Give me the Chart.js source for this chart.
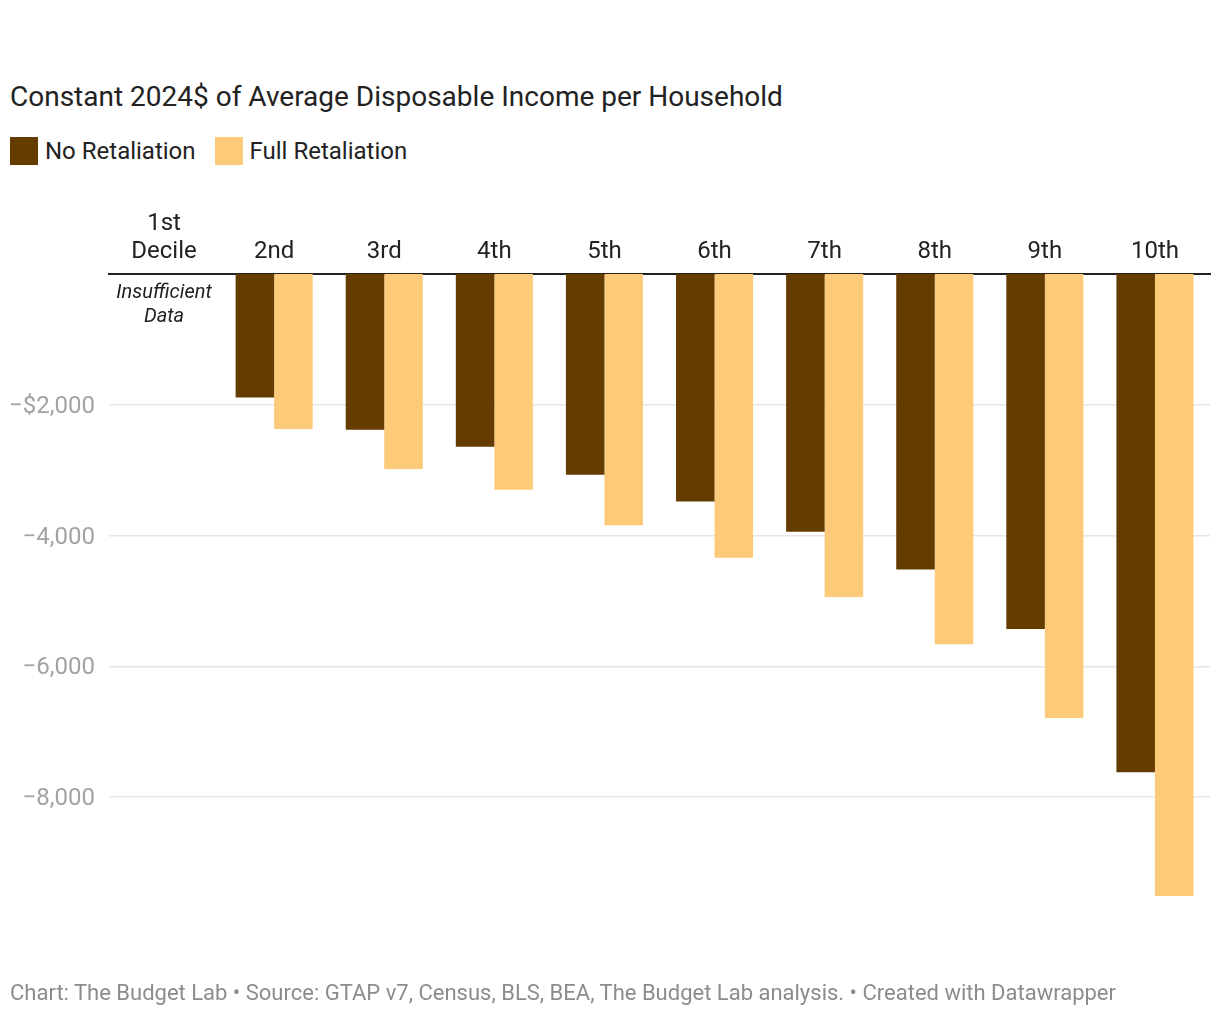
<!DOCTYPE html>
<html>
<head>
<meta charset="utf-8">
<script src="https://cdn.jsdelivr.net/npm/chart.js@4.4.1/dist/chart.umd.min.js"></script>
<style>
    html, body { margin: 0; padding: 0; background: #fff; }
    body { width: 1220px; height: 1018px; position: relative; overflow: hidden; font-family: Roboto, sans-serif; }
    #chart { position: absolute; left: 0; top: 0; }
    .title { position: absolute; left: 10px; top: 81px; font-size: 28px; line-height: 32px; color: #222; white-space: nowrap; }
    .legend { position: absolute; left: 10px; top: 137px; display: flex; align-items: center; height: 28px; }
    .legend-item { display: flex; align-items: center; margin-right: 19px; font-size: 24px; color: #222; }
    .legend-swatch { width: 28px; height: 28px; margin-right: 7px; }
    .footer { position: absolute; left: 10px; top: 980px; font-size: 22px; line-height: 26px; color: #8c8c8c; white-space: nowrap; }
</style>
</head>
<body>
<div class="title">Constant 2024$ of Average Disposable Income per Household</div>
<div class="legend">
    <div class="legend-item"><span class="legend-swatch" style="background:#643c00"></span>No Retaliation</div>
    <div class="legend-item"><span class="legend-swatch" style="background:#fdca79"></span>Full Retaliation</div>
</div>
<canvas id="chart" width="1220" height="1018"></canvas>
<div class="footer">Chart: The Budget Lab • Source: GTAP v7, Census, BLS, BEA, The Budget Lab analysis. • Created with Datawrapper</div>

<script>
// Data (2024$ change in disposable income per household)
const deciles = [['1st', 'Decile'], '2nd', '3rd', '4th', '5th', '6th', '7th', '8th', '9th', '10th'];
const noRetaliation   = [null, -1890, -2380, -2640, -3070, -3480, -3940, -4520, -5430, -7620];
const fullRetaliation = [null, -2370, -2980, -3300, -3840, -4340, -4940, -5660, -6790, -9510];
const yTicks      = [-8000, -6000, -4000, -2000];
const yTickLabels = ['\u22128,000', '\u22126,000', '\u22124,000', '\u2212$2,000'];

const DARK  = '#643c00';
const LIGHT = '#fdca79';

// Note under the first decile, which has no bars
const insufficientNote = {
    id: 'insufficientNote',
    afterDatasetsDraw(chart) {
        const { ctx, scales: { x, y } } = chart;
        const cx = x.getPixelForValue(0);
        ctx.save();
        ctx.font = 'italic 20px Roboto, sans-serif';
        ctx.fillStyle = '#222';
        ctx.textAlign = 'center';
        ctx.textBaseline = 'middle';
        ctx.fillText('Insufficient', cx, y.top + 19);
        ctx.fillText('Data', cx, y.top + 43);
        ctx.restore();
    },
};

new Chart(document.getElementById('chart'), {
    type: 'bar',
    data: {
        labels: deciles,
        datasets: [
            { label: 'No Retaliation', data: noRetaliation, backgroundColor: DARK },
            { label: 'Full Retaliation', data: fullRetaliation, backgroundColor: LIGHT },
        ],
    },
    options: {
        responsive: false,
        animation: false,
        events: [],
        layout: { padding: { left: 0, right: 10, top: 0, bottom: 90 } },
        datasets: {
            bar: { categoryPercentage: 0.7, barPercentage: 1.0, borderWidth: 0 },
        },
        plugins: {
            legend: { display: false },
            tooltip: { enabled: false },
        },
        scales: {
            x: {
                position: 'top',
                grid: { display: false, drawTicks: false },
                border: { display: true, color: '#222', width: 2 },
                ticks: {
                    color: '#222',
                    font: { family: 'Roboto', size: 24, lineHeight: 1.17 },
                    padding: 8,
                    maxRotation: 0,
                },
                afterFit: (scale) => { scale.height = 274; },
            },
            y: {
                min: -10000,
                max: 0,
                grid: { color: '#e6e6e6', lineWidth: 1.5, drawTicks: false },
                border: { display: false },
                afterBuildTicks: (scale) => { scale.ticks = yTicks.map(v => ({ value: v })); },
                ticks: {
                    color: '#a3a3a3',
                    font: { family: 'Roboto', size: 24 },
                    padding: 14,
                    labelOffset: 2,
                    callback: (v) => yTickLabels[yTicks.indexOf(v)],
                },
                afterFit: (scale) => { scale.width = 109; },
            },
        },
    },
    plugins: [insufficientNote],
});
</script>
</body>
</html>
